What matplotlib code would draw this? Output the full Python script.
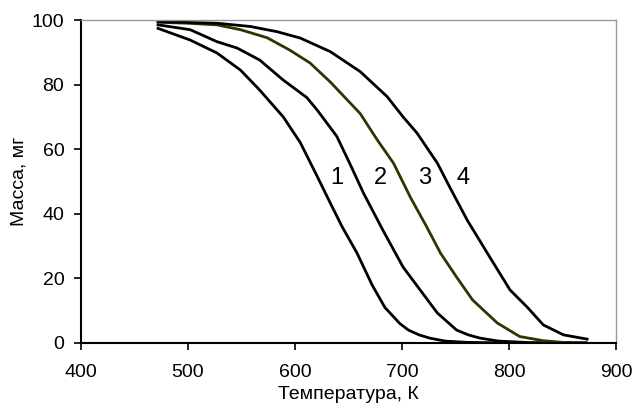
import matplotlib.pyplot as plt

plt.rcParams['font.family'] = ['Liberation Sans', 'DejaVu Sans']

# Temperature (K) and mass (mg)
t1 = [472, 502, 527, 549, 567, 589, 605, 621, 633, 644, 658, 672, 684, 698, 706, 716, 726, 740, 760, 800, 840, 872]
m1 = [97.4, 93.8, 89.8, 84.5, 78.3, 70, 62, 51.4, 43.3, 36, 27.8, 18, 11, 6, 4, 2.5, 1.5, 0.6, 0.2, 0, 0, 0]

t2 = [472, 502, 527, 546, 567, 589, 611, 621, 639, 651, 664, 682, 701, 717, 733, 751, 762, 773, 790, 820, 872]
m2 = [98.5, 97, 93.3, 91.3, 87.6, 81.4, 76, 72, 64, 55.7, 46.4, 35, 23.5, 16.4, 9.3, 4, 2.5, 1.5, 0.6, 0.1, 0]

t3 = [472, 500, 527, 549, 574, 595, 614, 633, 661, 677, 692, 708, 723, 736, 751, 766, 789, 810, 832, 850, 872]
m3 = [99.3, 99, 98.5, 97, 94.5, 90.7, 86.7, 80.8, 71, 62.8, 55.7, 45, 36, 27.8, 20.4, 13.3, 6.2, 2, 0.7, 0.2, 0]

t4 = [472, 527, 558, 583, 605, 633, 661, 686, 701, 714, 733, 745, 761, 782, 801, 817, 832, 851, 873]
m4 = [99.5, 99, 98, 96.4, 94.4, 90.2, 84, 76.3, 70, 65, 55.7, 48, 38, 26.6, 16.4, 11.1, 5.6, 2.5, 1.2]

curves = [(t1, m1, 'black'), (t2, m2, 'black'), (t3, m3, '#333300'), (t4, m4, 'black')]

# curve numbers and where they sit
labels = ['1', '2', '3', '4']
label_t = [639, 680, 721, 757]
label_m = [51, 51, 51, 51]

fig = plt.figure(figsize=(6.35, 4.09), dpi=100)
ax = fig.add_axes([0.1276, 0.1614, 0.8425, 0.7897])

for t, m, c in curves:
    ax.plot(t, m, color=c, linewidth=2.0)

for lab, x, y in zip(labels, label_t, label_m):
    ax.text(x, y, lab, fontsize=17, ha='center', va='center')

ax.set_xlim(400, 900)
ax.set_ylim(0, 100)
ax.set_xticks(range(400, 901, 100))
ax.set_yticks(range(0, 101, 20))
ax.tick_params(direction='out', length=5, width=1.2, labelsize=14, colors='black', pad=7)
ax.tick_params(axis='x', pad=10)
ax.tick_params(top=False, right=False)

for side in ['left', 'bottom']:
    ax.spines[side].set_linewidth(1.5)
    ax.spines[side].set_color('black')
for side in ['top', 'right']:
    ax.spines[side].set_linewidth(1.0)
    ax.spines[side].set_color('#999999')

ax.set_xlabel('Температура, К', fontsize=14, labelpad=4)
ax.set_ylabel('Масса, мг', fontsize=14, labelpad=3)

fig.savefig('out.png', dpi=100)
